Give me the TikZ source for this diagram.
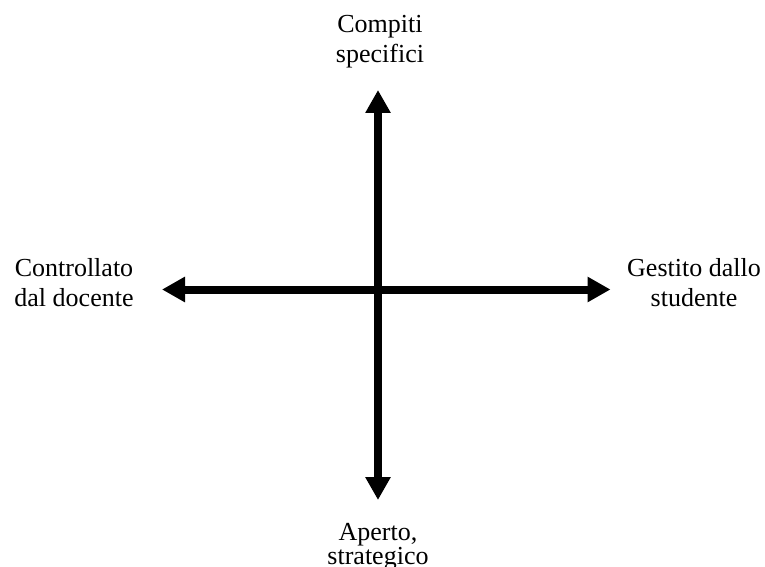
\documentclass[tikz,border=0pt]{standalone}
\usepackage{fontspec}
\setmainfont{Liberation Serif}
\usetikzlibrary{arrows.meta}
\begin{document}
\begin{tikzpicture}[x=1pt,y=-1pt,
  axis/.style={line width=8pt,-{Triangle[length=23pt,width=24pt]}},
  lbl/.style={align=center,anchor=base,font=\fontsize{26}{30}\selectfont}]
\useasboundingbox (0,0) rectangle (765,567);
\coordinate (o) at (378,289.5);
\coordinate (tipN) at (378,90);
\coordinate (tipS) at (378,500);
\coordinate (tipW) at (162,289.5);
\coordinate (tipE) at (610.5,289.5);
\draw[axis] (o) -- (tipN);
\draw[axis] (o) -- (tipS);
\draw[axis] (o) -- (tipW);
\draw[axis] (o) -- (tipE);
% base anchor sits on the last line
\node[lbl] (top) at (380,63) {Compiti\\specifici};
\node[lbl,font=\fontsize{26}{24.5}\selectfont] (bottom) at (378,564.5) {Aperto,\\strategico};
\node[lbl] (left) at (74,306.7) {Controllato\\dal docente};
\node[lbl] (right) at (694,306) {Gestito dallo\\studente};
\end{tikzpicture}
\end{document}
